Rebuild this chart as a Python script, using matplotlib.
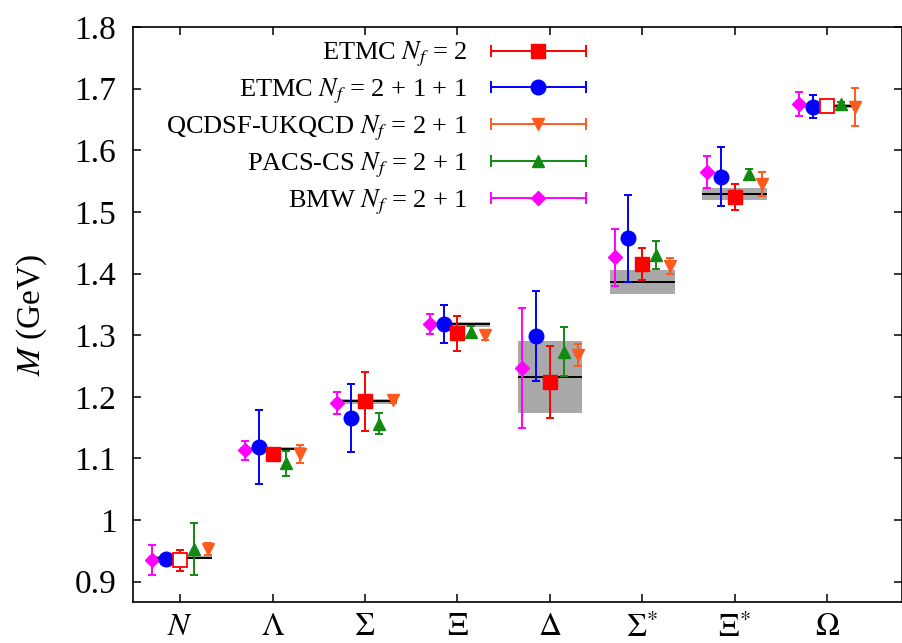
import numpy as np
import matplotlib
matplotlib.use('Agg')
import matplotlib.pyplot as plt
from matplotlib.lines import Line2D
from matplotlib.legend_handler import HandlerLine2D

plt.rcParams['font.family'] = ['Liberation Serif', 'DejaVu Serif']
plt.rcParams['mathtext.fontset'] = 'stix'

# baryon octet + decuplet
baryons = [r'$N$', r'$\Lambda$', r'$\Sigma$', r'$\Xi$', r'$\Delta$',
           r'$\Sigma^{*}$', r'$\Xi^{*}$', r'$\Omega$']

# experiment: mass and half height of grey band
exp_mass = [0.939, 1.116, 1.193, 1.318, 1.232, 1.386, 1.529, 1.672]
exp_band = [0.003, 0.003, 0.004, 0.004, 0.059, 0.019, 0.009, 0.003]

etmc2_mass = [0.935, 1.107, 1.193, 1.303, 1.224, 1.415, 1.524, 1.672]
etmc2_err = [0.017, 0.005, 0.048, 0.028, 0.059, 0.026, 0.021, 0.009]
etmc2_open = [True, False, False, False, False, False, False, True]

etmc211_mass = [0.936, 1.118, 1.166, 1.318, 1.298, 1.457, 1.557, 1.671]
etmc211_err = [0.005, 0.060, 0.055, 0.031, 0.073, 0.071, 0.048, 0.018]

qcdsf_mass = [0.953, 1.107, 1.194, 1.300, 1.268, 1.412, 1.545, 1.670]
qcdsf_err = [0.009, 0.015, 0.004, 0.008, 0.018, 0.013, 0.020, 0.031]

pacs_mass = [0.953, 1.092, 1.156, 1.305, 1.273, 1.430, 1.562, 1.675]
pacs_err = [0.042, 0.020, 0.017, 0.010, 0.040, 0.023, 0.007, 0.004]

bmw_mass = [0.935, 1.113, 1.190, 1.318, 1.247, 1.426, 1.565, 1.675]
bmw_err = [0.024, 0.015, 0.018, 0.016, 0.097, 0.047, 0.026, 0.020]

yticks = [0.9, 1.0, 1.1, 1.2, 1.3, 1.4, 1.5, 1.6, 1.7, 1.8]
ytick_labels = ['0.9', '1', '1.1', '1.2', '1.3', '1.4', '1.5', '1.6', '1.7', '1.8']

RED = '#ff0000'
BLUE = '#0000ff'
ORANGE = '#ff5a1e'
GREEN = '#118a11'
MAGENTA = '#ff00ff'


def main():
    fig = plt.figure(figsize=(9.03, 6.43), dpi=100)
    ax = fig.add_axes([133 / 903, 41 / 643, 769 / 903, 575 / 643])

    x = np.arange(1, len(baryons) + 1)

    # experimental values
    exp_mass_a = np.array(exp_mass)
    exp_band_a = np.array(exp_band)
    ax.bar(x, 2 * exp_band_a, bottom=exp_mass_a - exp_band_a, width=0.7,
           color='#a9a9a9', zorder=1)
    ax.hlines(exp_mass_a, x - 0.35, x + 0.35, color='black', lw=1.4, zorder=2)

    eb = dict(elinewidth=1.4, capsize=3, capthick=1.4, zorder=3)

    ax.errorbar(x - 0.3, bmw_mass, yerr=bmw_err, fmt='D', color=MAGENTA, ms=7, **eb)
    ax.errorbar(x - 0.15, etmc211_mass, yerr=etmc211_err, fmt='o', color=BLUE, ms=10.5, **eb)

    # ETMC Nf=2: open squares where used as input
    ax.errorbar(x, etmc2_mass, yerr=etmc2_err, fmt='none', ecolor=RED, **eb)
    is_open = np.array(etmc2_open)
    m2 = np.array(etmc2_mass)
    ax.plot(x[~is_open], m2[~is_open], 's', color=RED, ms=10.5, zorder=4)
    ax.plot(x[is_open], m2[is_open], 's', color=RED, mfc='white', mew=1.3, ms=10, zorder=4)

    ax.errorbar(x + 0.15, pacs_mass, yerr=pacs_err, fmt='^', color=GREEN, ms=9, **eb)
    ax.errorbar(x + 0.3, qcdsf_mass, yerr=qcdsf_err, fmt='v', color=ORANGE, ms=9, **eb)

    ax.set_xlim(0.49, 8.81)
    ax.set_ylim(0.867, 1.8)
    ax.set_xticks(x)
    ax.set_xticklabels(baryons)
    ax.set_yticks(yticks)
    ax.set_yticklabels(ytick_labels)
    ax.tick_params(direction='in', top=True, right=True, length=6, width=1.1,
                   labelsize=24)
    ax.tick_params(axis='y', pad=12)
    ax.tick_params(axis='x', pad=8, labelsize=23)
    for s in ax.spines.values():
        s.set_linewidth(1.2)
    ax.set_ylabel(r'$M$ (GeV)', fontsize=24, labelpad=18)

    # gnuplot style key: text then bar with caps and symbol
    entries = [
        (r'ETMC $N_f$ = 2', RED, 's', 10.5),
        (r'ETMC $N_f$ = 2 + 1 + 1', BLUE, 'o', 10.5),
        (r'QCDSF-UKQCD $N_f$ = 2 + 1', ORANGE, 'v', 9),
        (r'PACS-CS $N_f$ = 2 + 1', GREEN, '^', 9),
        (r'BMW $N_f$ = 2 + 1', MAGENTA, 'D', 7),
    ]
    handles = []
    labels = []
    hmap = {}
    for lab, col, mk, ms in entries:
        cap = Line2D([], [], color=col, lw=1.4, marker='|', ms=8, mew=1.4)
        sym = Line2D([], [], color=col, ls='none', marker=mk, ms=ms)
        hmap[cap] = HandlerLine2D(numpoints=2, marker_pad=0)
        handles.append((cap, sym))
        labels.append(lab)
    ax.legend(handles, labels, handler_map=hmap, loc='upper right',
              bbox_to_anchor=(586 / 903, 1 - 40 / 643), bbox_transform=fig.transFigure,
              frameon=False, markerfirst=False, fontsize=19, handlelength=3.6,
              handletextpad=0.9, labelspacing=0.28, borderpad=0, borderaxespad=0)

    fig.savefig('out.png', dpi=100)


if __name__ == '__main__':
    main()
